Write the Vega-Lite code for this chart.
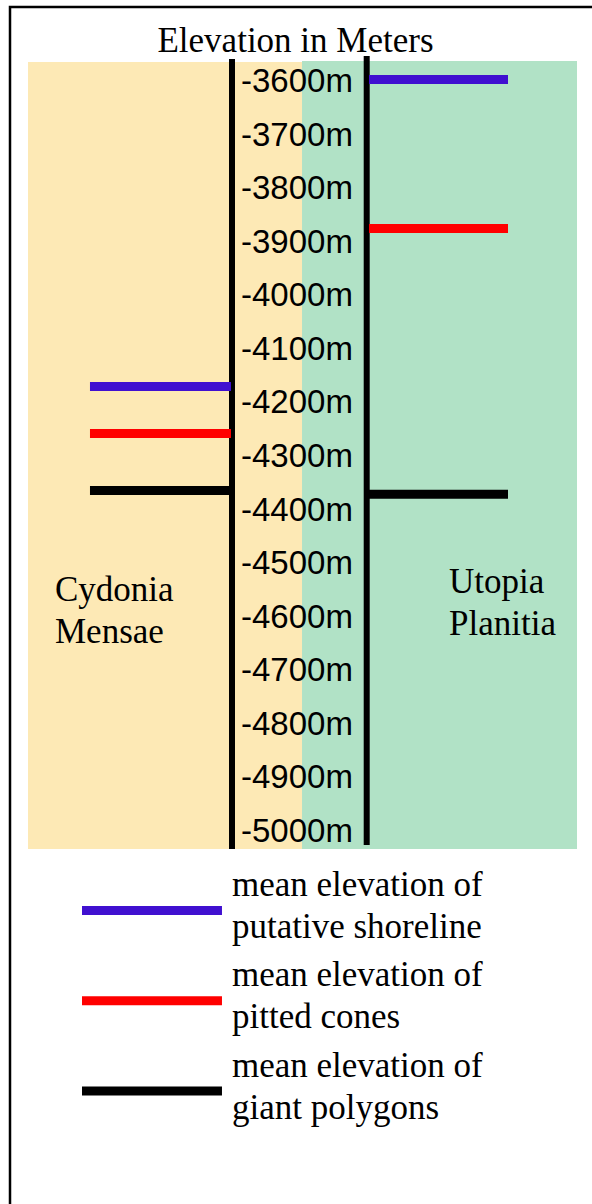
{
  "$schema": "https://vega.github.io/schema/vega-lite/v6.json",
  "width": 600,
  "height": 1220,
  "autosize": {"type": "none"},
  "padding": {"left": 10, "top": 7, "right": 0, "bottom": 0},
  "background": "white",
  "config": {"view": {"stroke": "black", "strokeWidth": 2.5}},
  "title": {
    "text": "Elevation in Meters",
    "anchor": "middle",
    "frame": "group",
    "orient": "top",
    "offset": -46,
    "baseline": "alphabetic",
    "dx": -14.5,
    "dy": 34,
    "font": "Liberation Serif",
    "fontSize": 35,
    "fontWeight": "normal",
    "color": "black"
  },
  "datasets": {
    "regions": [
      {"region": "Cydonia Mensae", "label": "Cydonia\nMensae"},
      {"region": "Utopia Planitia", "label": "Utopia\nPlanitia"}
    ],
    "features": [
      {"region": "Cydonia Mensae", "feature": "putative shoreline", "elevation": -4172},
      {"region": "Cydonia Mensae", "feature": "pitted cones", "elevation": -4260},
      {"region": "Cydonia Mensae", "feature": "giant polygons", "elevation": -4366},
      {"region": "Utopia Planitia", "feature": "putative shoreline", "elevation": -3599},
      {"region": "Utopia Planitia", "feature": "pitted cones", "elevation": -3877},
      {"region": "Utopia Planitia", "feature": "giant polygons", "elevation": -4373}
    ],
    "ticks": [
      {"elevation": -3600, "label": "-3600m"},
      {"elevation": -3700, "label": "-3700m"},
      {"elevation": -3800, "label": "-3800m"},
      {"elevation": -3900, "label": "-3900m"},
      {"elevation": -4000, "label": "-4000m"},
      {"elevation": -4100, "label": "-4100m"},
      {"elevation": -4200, "label": "-4200m"},
      {"elevation": -4300, "label": "-4300m"},
      {"elevation": -4400, "label": "-4400m"},
      {"elevation": -4500, "label": "-4500m"},
      {"elevation": -4600, "label": "-4600m"},
      {"elevation": -4700, "label": "-4700m"},
      {"elevation": -4800, "label": "-4800m"},
      {"elevation": -4900, "label": "-4900m"},
      {"elevation": -5000, "label": "-5000m"}
    ],
    "legend": [
      {"feature": "putative shoreline", "rank": 1, "label": "mean elevation of\nputative shoreline"},
      {"feature": "pitted cones", "rank": 2, "label": "mean elevation of\npitted cones"},
      {"feature": "giant polygons", "rank": 3, "label": "mean elevation of\ngiant polygons"}
    ]
  },
  "resolve": {"scale": {"y": "independent"}},
  "layer": [
    {
      "layer": [
        {
          "data": {"name": "regions"},
          "transform": [{"filter": "datum.region === 'Cydonia Mensae'"}],
          "mark": {"type": "rect", "strokeWidth": 0},
          "encoding": {
            "x": {"datum": 3.0, "type": "quantitative", "scale": {"domain": [0, 100], "nice": false, "zero": false}, "axis": null},
            "x2": {"datum": 48.67},
            "y": {"datum": -3566.4, "type": "quantitative", "scale": {"domain": [-5741.0, -3463.7], "nice": false, "zero": false}, "axis": null},
            "y2": {"datum": -5035.5},
            "fill": {"field": "region", "type": "nominal", "scale": {"domain": ["Cydonia Mensae", "Utopia Planitia"], "range": ["#FDE9B5", "#B1E2C6"]}, "legend": null}
          }
        },
        {
          "data": {"name": "regions"},
          "transform": [{"filter": "datum.region === 'Utopia Planitia'"}],
          "mark": {"type": "rect", "strokeWidth": 0},
          "encoding": {
            "x": {"datum": 48.67, "type": "quantitative", "scale": {"domain": [0, 100], "nice": false, "zero": false}, "axis": null},
            "x2": {"datum": 94.5},
            "y": {"datum": -3564.5, "type": "quantitative", "axis": null},
            "y2": {"datum": -5035.5},
            "fill": {"field": "region", "type": "nominal", "legend": null}
          }
        },
        {
          "data": {"name": "regions"},
          "transform": [{"filter": "datum.region === 'Cydonia Mensae'"}],
          "mark": {"type": "rule", "strokeWidth": 6, "color": "black"},
          "encoding": {
            "x": {"datum": 37.0, "type": "quantitative", "axis": null},
            "y": {"datum": -3560.8, "type": "quantitative", "axis": null},
            "y2": {"datum": -5035.5}
          }
        },
        {
          "data": {"name": "regions"},
          "transform": [{"filter": "datum.region === 'Utopia Planitia'"}],
          "mark": {"type": "rule", "strokeWidth": 6, "color": "black"},
          "encoding": {
            "x": {"datum": 59.45, "type": "quantitative", "axis": null},
            "y": {"datum": -3555.2, "type": "quantitative", "axis": null},
            "y2": {"datum": -5028}
          }
        },
        {
          "data": {"name": "features"},
          "transform": [{"filter": "datum.region === 'Cydonia Mensae'"}],
          "mark": {"type": "rule", "strokeWidth": 9},
          "encoding": {
            "x": {"datum": 13.33, "type": "quantitative", "axis": null},
            "x2": {"datum": 36.83},
            "y": {"field": "elevation", "type": "quantitative", "axis": null},
            "stroke": {"field": "feature", "type": "nominal", "scale": {"domain": ["putative shoreline", "pitted cones", "giant polygons"], "range": ["#4010D0", "#FF0000", "#000000"]}, "legend": null}
          }
        },
        {
          "data": {"name": "features"},
          "transform": [{"filter": "datum.region === 'Utopia Planitia'"}],
          "mark": {"type": "rule", "strokeWidth": 9},
          "encoding": {
            "x": {"datum": 59.83, "type": "quantitative", "axis": null},
            "x2": {"datum": 83.0},
            "y": {"field": "elevation", "type": "quantitative", "axis": null},
            "stroke": {"field": "feature", "type": "nominal", "legend": null}
          }
        },
        {
          "data": {"name": "ticks"},
          "mark": {"type": "text", "align": "left", "baseline": "alphabetic", "dy": 12, "font": "Liberation Sans", "fontSize": 33, "color": "black"},
          "encoding": {
            "x": {"datum": 38.5, "type": "quantitative", "axis": null},
            "y": {"field": "elevation", "type": "quantitative", "axis": null},
            "text": {"field": "label", "type": "nominal"}
          }
        },
        {
          "data": {"name": "regions"},
          "transform": [{"filter": "datum.region === 'Cydonia Mensae'"}],
          "mark": {"type": "text", "align": "left", "baseline": "alphabetic", "lineBreak": "\n", "lineHeight": 42, "font": "Liberation Serif", "fontSize": 35, "color": "black"},
          "encoding": {
            "x": {"datum": 7.5, "type": "quantitative", "axis": null},
            "y": {"datum": -4572.6, "type": "quantitative", "axis": null},
            "text": {"field": "label", "type": "nominal"}
          }
        },
        {
          "data": {"name": "regions"},
          "transform": [{"filter": "datum.region === 'Utopia Planitia'"}],
          "mark": {"type": "text", "align": "left", "baseline": "alphabetic", "lineBreak": "\n", "lineHeight": 42, "font": "Liberation Serif", "fontSize": 35, "color": "black"},
          "encoding": {
            "x": {"datum": 73.17, "type": "quantitative", "axis": null},
            "y": {"datum": -4557.6, "type": "quantitative", "axis": null},
            "text": {"field": "label", "type": "nominal"}
          }
        }
      ]
    },
    {
      "data": {"name": "legend"},
      "layer": [
        {
          "mark": {"type": "rule", "strokeWidth": 9},
          "encoding": {
            "x": {"datum": 12.0, "type": "quantitative", "axis": null},
            "x2": {"datum": 35.33},
            "y": {"field": "rank", "type": "quantitative", "scale": {"domain": [-9.0055, 4.505], "reverse": true, "nice": false, "zero": false}, "axis": null},
            "stroke": {"field": "feature", "type": "nominal", "legend": null}
          }
        },
        {
          "mark": {"type": "text", "align": "left", "baseline": "alphabetic", "dy": -14.5, "lineBreak": "\n", "lineHeight": 42, "font": "Liberation Serif", "fontSize": 35, "color": "black"},
          "encoding": {
            "x": {"datum": 37.0, "type": "quantitative", "axis": null},
            "y": {"field": "rank", "type": "quantitative", "axis": null},
            "text": {"field": "label", "type": "nominal"}
          }
        }
      ]
    }
  ]
}
